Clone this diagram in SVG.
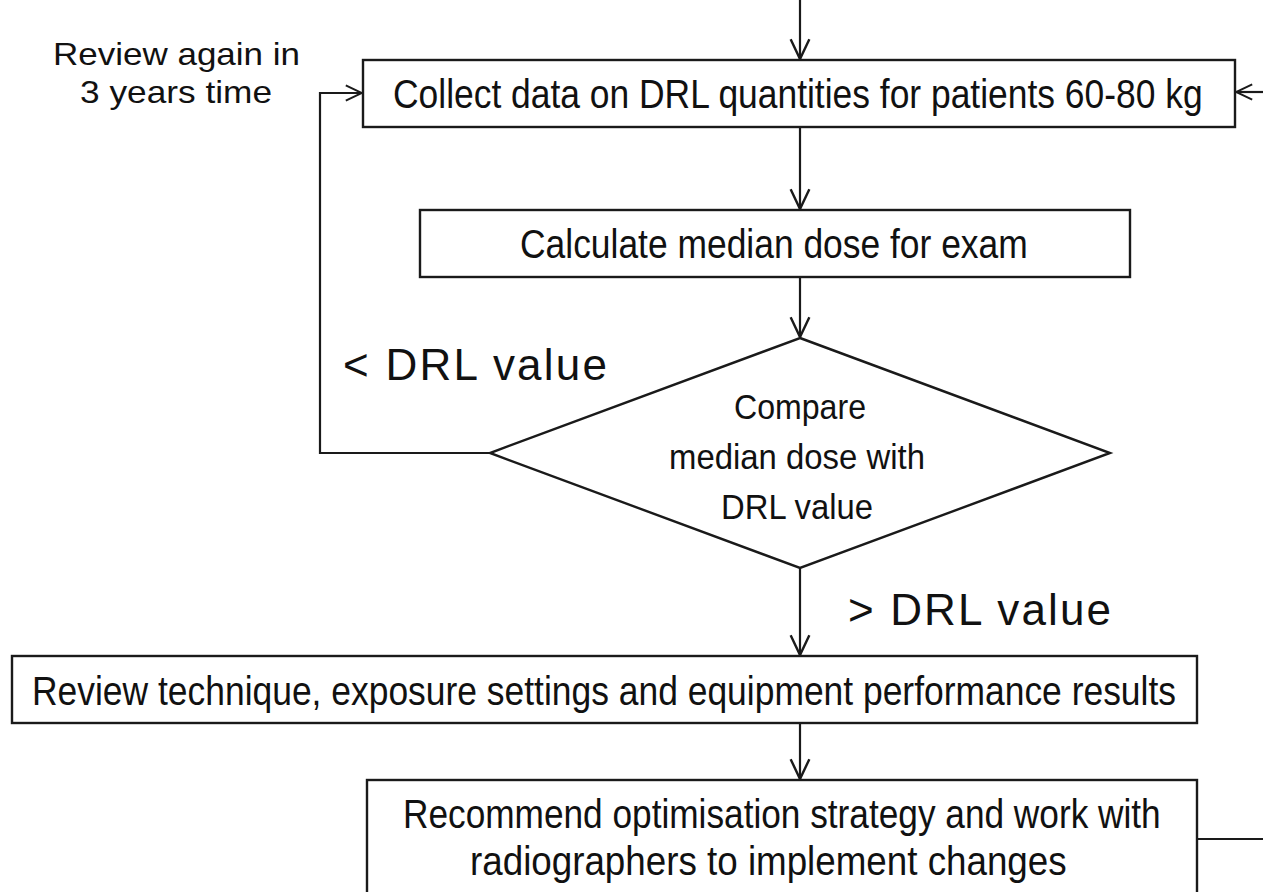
<svg xmlns="http://www.w3.org/2000/svg" width="1263" height="892" viewBox="0 0 1263 892">
  <style>
    .box { fill: #ffffff; stroke: #1a1a1a; stroke-width: 2.4; }
    .wire { fill: none; stroke: #1a1a1a; stroke-width: 2.2; }
    .t { font-family: "Liberation Sans", Arial, sans-serif; fill: #111111; }
    .main { font-size: 40px; }
    .side { font-size: 32px; }
    .dia { font-size: 35px; }
    .cond { font-size: 44px; }
  </style>
  <defs>
    <marker id="arrow" viewBox="0 0 20 20" refX="19" refY="10" markerWidth="22" markerHeight="22" markerUnits="userSpaceOnUse" orient="auto">
      <path d="M1,1.5 L19,10 L1,18.5" fill="none" stroke="#1a1a1a" stroke-width="2.2"/>
    </marker>
    <marker id="arrowSmall" viewBox="0 0 20 20" refX="19" refY="10" markerWidth="18" markerHeight="18" markerUnits="userSpaceOnUse" orient="auto">
      <path d="M1,1.5 L19,10 L1,18.5" fill="none" stroke="#1a1a1a" stroke-width="2.2"/>
    </marker>
  </defs>

  <rect width="1263" height="892" fill="#ffffff"/>

  <!-- connectors -->
  <g id="connectors">
    <line class="wire" x1="800" y1="0" x2="800" y2="59" marker-end="url(#arrow)"/>
    <line class="wire" x1="800" y1="128" x2="800" y2="209" marker-end="url(#arrow)"/>
    <line class="wire" x1="800" y1="278" x2="800" y2="337" marker-end="url(#arrow)"/>
    <line class="wire" x1="800" y1="568" x2="800" y2="655" marker-end="url(#arrow)"/>
    <line class="wire" x1="800" y1="724" x2="800" y2="779" marker-end="url(#arrow)"/>
    <polyline class="wire" points="490,453 320,453 320,93 362,93" marker-end="url(#arrowSmall)"/>
    <line class="wire" x1="1263" y1="92" x2="1236" y2="92" marker-end="url(#arrowSmall)"/>
    <line class="wire" x1="1197" y1="839" x2="1263" y2="839"/>
    <text class="t cond" x="343" y="380" textLength="264" lengthAdjust="spacing">&lt; DRL value</text>
    <text class="t cond" x="848" y="625" textLength="263" lengthAdjust="spacing">&gt; DRL value</text>
  </g>

  <!-- loop note -->
  <g id="review-note">
    <text class="t side" x="53" y="65" textLength="247" lengthAdjust="spacingAndGlyphs">Review again in</text>
    <text class="t side" x="80" y="103" textLength="192" lengthAdjust="spacingAndGlyphs">3 years time</text>
  </g>

  <!-- process steps: box labels use a narrowed sans (horizontal scale 0.88) -->
  <g id="collect-data">
    <rect class="box" x="363" y="60" width="872" height="67"/>
    <text class="t main" transform="translate(393,108) scale(0.88,1)" textLength="920" lengthAdjust="spacingAndGlyphs">Collect data on DRL quantities for patients 60-80 kg</text>
  </g>

  <g id="calculate-median">
    <rect class="box" x="420" y="210" width="710" height="67"/>
    <text class="t main" transform="translate(520,258) scale(0.88,1)" textLength="577" lengthAdjust="spacingAndGlyphs">Calculate median dose for exam</text>
  </g>

  <g id="compare-decision">
    <polygon class="box" points="800,338 1110,453 800,568 490,453"/>
    <text class="t dia" x="800" y="419" text-anchor="middle" textLength="132" lengthAdjust="spacingAndGlyphs">Compare</text>
    <text class="t dia" x="797" y="469" text-anchor="middle" textLength="256" lengthAdjust="spacingAndGlyphs">median dose with</text>
    <text class="t dia" x="797" y="519" text-anchor="middle" textLength="152" lengthAdjust="spacingAndGlyphs">DRL value</text>
  </g>

  <g id="review-technique">
    <rect class="box" x="12" y="656" width="1185" height="67"/>
    <text class="t main" transform="translate(32,705) scale(0.88,1)" textLength="1300" lengthAdjust="spacingAndGlyphs">Review technique, exposure settings and equipment performance results</text>
  </g>

  <g id="recommend-strategy">
    <rect class="box" x="367" y="780" width="830" height="130"/>
    <text class="t main" transform="translate(403,828) scale(0.88,1)" textLength="861" lengthAdjust="spacingAndGlyphs">Recommend optimisation strategy and work with</text>
    <text class="t main" transform="translate(470,875) scale(0.88,1)" textLength="678" lengthAdjust="spacingAndGlyphs">radiographers to implement changes</text>
  </g>
</svg>
